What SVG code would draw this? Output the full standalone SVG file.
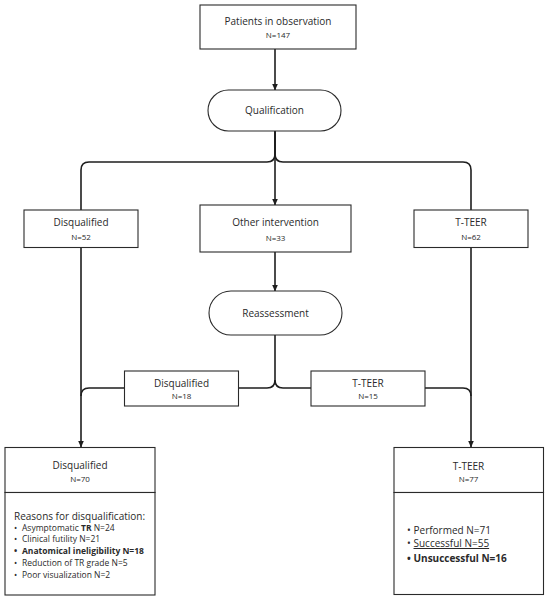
<svg xmlns="http://www.w3.org/2000/svg" width="550" height="600" viewBox="0 0 550 600">
<defs>
<style>
text{font-family:"Open Sans","Liberation Sans",sans-serif;fill:#2a2a2a}
.box{fill:#fff;stroke:#2a2a2a;stroke-width:1.1}
.ln{fill:none;stroke:#1e1e1e;stroke-width:1.6}
.t{font-size:10px;text-anchor:middle}
.n{font-size:8px;text-anchor:middle}
.li{font-size:8.5px}
.li2{font-size:10px}
</style>
<marker id="ah" markerWidth="7" markerHeight="6" refX="6.5" refY="3" orient="auto" markerUnits="userSpaceOnUse">
<path d="M0,0 L7,3 L0,6 Z" fill="#1e1e1e"/>
</marker>
</defs>
<rect width="550" height="600" fill="#fff"/>
<g id="connectors">
<path class="ln" d="M275,49 V90" marker-end="url(#ah)"/>
<path class="ln" d="M275,131 V205" marker-end="url(#ah)"/>
<path class="ln" d="M275,131 V154 Q275,162 267,162 H89 Q81,162 81,170 V210"/>
<path class="ln" d="M275,131 V154 Q275,162 283,162 H463 Q471,162 471,170 V210"/>
<path class="ln" d="M275,252 V291" marker-end="url(#ah)"/>
<path class="ln" d="M81,247 V447" marker-end="url(#ah)"/>
<path class="ln" d="M471,247 V447" marker-end="url(#ah)"/>
<path class="ln" d="M275,335 V380 Q275,388 267,388 H89 Q81,388 81,396"/>
<path class="ln" d="M275,380 Q275,388 283,388 H463 Q471,388 471,396"/>
</g>
<g id="patients">
<rect class="box" x="200" y="5" width="156" height="44"/>
<text class="t" x="278" y="24.5">Patients in observation</text>
<text class="n" x="278" y="37.5">N=147</text>
</g>
<g id="qualification">
<rect class="box" x="208" y="90" width="133" height="41" rx="20.5"/>
<text class="t" x="274.5" y="114">Qualification</text>
</g>
<g id="disq1">
<rect class="box" x="24" y="210" width="114" height="37.5"/>
<text class="t" x="81" y="226">Disqualified</text>
<text class="n" x="81" y="239.5">N=52</text>
</g>
<g id="other">
<rect class="box" x="200" y="205" width="151" height="47"/>
<text class="t" x="275.5" y="226">Other intervention</text>
<text class="n" x="275.5" y="240.5">N=33</text>
</g>
<g id="tteer1">
<rect class="box" x="414" y="210" width="114" height="37.5"/>
<text class="t" x="471" y="226">T-TEER</text>
<text class="n" x="471" y="239.5">N=62</text>
</g>
<g id="reassessment">
<rect class="box" x="209" y="291" width="133" height="44" rx="22"/>
<text class="t" x="275.5" y="317">Reassessment</text>
</g>
<g id="disq2">
<rect class="box" x="124.5" y="371" width="114" height="35"/>
<text class="t" x="181.5" y="386.5">Disqualified</text>
<text class="n" x="181.5" y="399">N=18</text>
</g>
<g id="tteer2">
<rect class="box" x="311" y="371" width="114" height="35"/>
<text class="t" x="368" y="386.5">T-TEER</text>
<text class="n" x="368" y="399">N=15</text>
</g>
<g id="disq-final">
<rect class="box" x="5" y="447.5" width="150" height="45"/>
<text class="t" x="80" y="468.5">Disqualified</text>
<text class="n" x="80" y="481.5">N=70</text>
<rect class="box" x="5" y="492.5" width="150" height="102.5"/>
<text class="li2" x="14" y="519.5">Reasons for disqualification:</text>
<text class="li" x="14" y="530.5">•<tspan x="22">Asymptomatic </tspan><tspan font-weight="bold">TR</tspan> N=24</text>
<text class="li" x="14" y="542">•<tspan x="22">Clinical futility N=21</tspan></text>
<text class="li" x="14" y="553.5" font-weight="bold">•<tspan x="22">Anatomical ineligibility N=18</tspan></text>
<text class="li" x="14" y="565.5">•<tspan x="22">Reduction of TR grade N=5</tspan></text>
<text class="li" x="14" y="578">•<tspan x="22">Poor visualization N=2</tspan></text>
</g>
<g id="tteer-final">
<rect class="box" x="394" y="447.5" width="149.5" height="45"/>
<text class="t" x="468.5" y="469.5">T-TEER</text>
<text class="n" x="468.5" y="481.5">N=77</text>
<rect class="box" x="394" y="492.5" width="149.5" height="102"/>
<text class="li2" x="407" y="533.5">•<tspan x="413.5">Performed N=71</tspan></text>
<text class="li2" x="407" y="547">•<tspan x="413.5" text-decoration="underline">Successful N=55</tspan></text>
<text class="li2" x="407" y="561.5" font-weight="bold">•<tspan x="413.5">Unsuccessful N=16</tspan></text>
</g>
</svg>
